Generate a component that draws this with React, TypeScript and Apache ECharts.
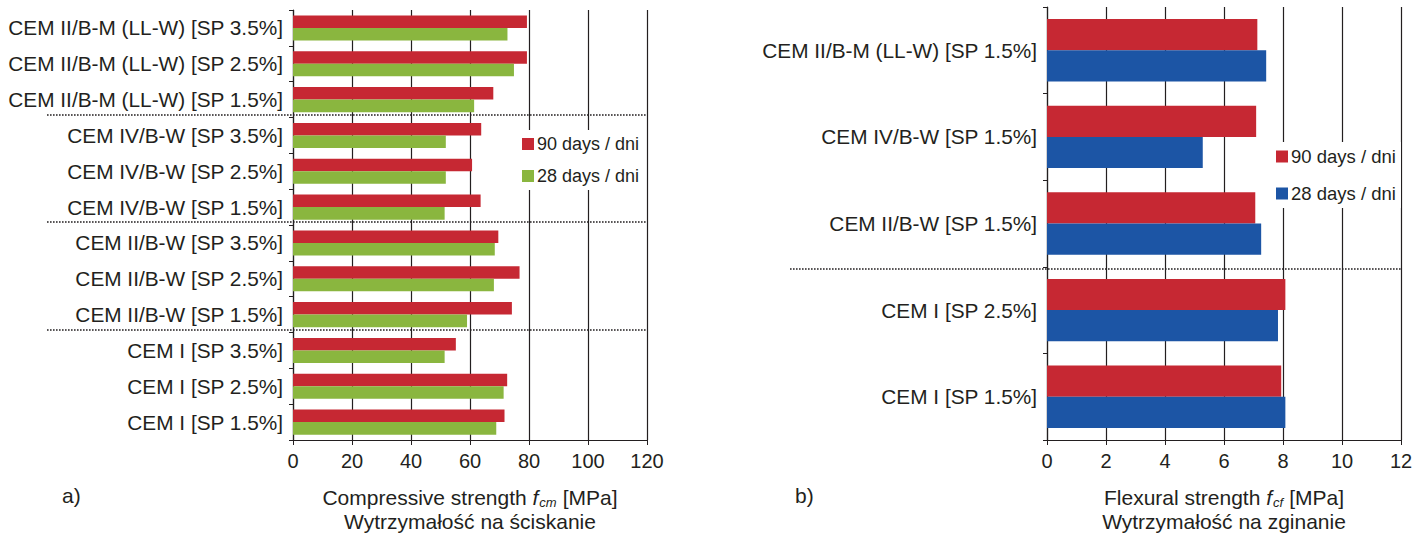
import React, { useEffect, useRef } from "react";
import * as echarts from "echarts";

// ---- Data (a) compressive strength, categories top to bottom ----
const catsA = [
  "CEM II/B-M (LL-W) [SP 3.5%]",
  "CEM II/B-M (LL-W) [SP 2.5%]",
  "CEM II/B-M (LL-W) [SP 1.5%]",
  "CEM IV/B-W [SP 3.5%]",
  "CEM IV/B-W [SP 2.5%]",
  "CEM IV/B-W [SP 1.5%]",
  "CEM II/B-W [SP 3.5%]",
  "CEM II/B-W [SP 2.5%]",
  "CEM II/B-W [SP 1.5%]",
  "CEM I [SP 3.5%]",
  "CEM I [SP 2.5%]",
  "CEM I [SP 1.5%]",
];
const days90A = [79.3, 79.3, 67.9, 63.8, 60.7, 63.6, 69.6, 76.8, 74.2, 55.2, 72.6, 71.7];
const days28A = [72.7, 74.9, 61.4, 51.8, 51.8, 51.4, 68.4, 68.1, 59.0, 51.4, 71.4, 68.9];
const groupBreaksA = [2, 5, 8]; // separator below these indices

// ---- Data (b) flexural strength, categories top to bottom ----
const catsB = [
  "CEM II/B-M (LL-W) [SP 1.5%]",
  "CEM IV/B-W [SP 1.5%]",
  "CEM II/B-W [SP 1.5%]",
  "CEM I [SP 2.5%]",
  "CEM I [SP 1.5%]",
];
const days90B = [7.13, 7.09, 7.06, 8.08, 7.94];
const days28B = [7.43, 5.28, 7.26, 7.83, 8.08];
const groupBreaksB = [2];

const seriesNames = ["90 days / dni", "28 days / dni"];

const FONT = "'Liberation Sans', Arial, Helvetica, sans-serif";
const INK = "#231f20";
const RED = "#c62833";
const GREEN = "#8ab63f";
const BLUE = "#1c55a5";

function buildOption(opts: {
  cats: string[];
  v90: number[];
  v28: number[];
  color28: string;
  grid: any;
  max: number;
  interval: number;
  legendLeft: number;
  legendTop: number;
  legendFont: number;
  legendGap: number;
  title: string;
  catGap: string;
}) {
  return {
    animation: false,
    textStyle: { fontFamily: FONT },
    grid: opts.grid,
    legend: {
      orient: "vertical",
      left: opts.legendLeft,
      top: opts.legendTop,
      data: seriesNames,
      icon: "rect",
      itemWidth: 12,
      itemHeight: 12,
      itemGap: opts.legendGap,
      backgroundColor: "#ffffff",
      padding: [5, 5, 5, 5],
      textStyle: { fontSize: opts.legendFont, color: INK, fontFamily: FONT, padding: [0, 0, 0, -2] },
    },
    xAxis: {
      type: "value",
      min: 0,
      max: opts.max,
      interval: opts.interval,
      axisLine: { show: true, lineStyle: { color: INK, width: 1.2 } },
      axisTick: { show: true, length: 5, lineStyle: { color: INK } },
      axisLabel: { fontSize: 20, color: INK, margin: 11, fontFamily: FONT },
      splitLine: { show: true, lineStyle: { color: INK, width: 1.2 } },
      name: opts.title,
      nameLocation: "middle",
      nameGap: 45,
      nameTextStyle: {
        color: INK,
        fontFamily: FONT,
        fontSize: 21,
        lineHeight: 24,
        rich: {
          a: { fontSize: 21, lineHeight: 24, color: INK, fontFamily: FONT },
          i: { fontSize: 21, lineHeight: 24, fontStyle: "italic", color: INK, fontFamily: FONT },
          s: {
            fontSize: 13,
            lineHeight: 24,
            fontStyle: "italic",
            color: INK,
            fontFamily: FONT,
            verticalAlign: "bottom",
            padding: [0, 6, 0, 1],
          },
        },
      },
    },
    yAxis: {
      type: "category",
      inverse: true,
      data: opts.cats,
      axisLine: { show: true, lineStyle: { color: INK, width: 1.2 } },
      axisTick: { show: true, length: 4, lineStyle: { color: INK } },
      axisLabel: { fontSize: 20.8, color: INK, margin: 10, fontFamily: FONT },
      splitLine: { show: false },
    },
    series: [
      {
        name: seriesNames[0],
        type: "bar",
        data: opts.v90,
        itemStyle: { color: RED },
        barGap: "0%",
        barCategoryGap: opts.catGap,
      },
      {
        name: seriesNames[1],
        type: "bar",
        data: opts.v28,
        itemStyle: { color: opts.color28 },
        barGap: "0%",
        barCategoryGap: opts.catGap,
      },
    ],
  };
}

function addSeparators(
  chart: any,
  cats: string[],
  breaks: number[],
  x1: number,
  x2: number,
  shift: number,
  label: string,
  labelX: number
) {
  const elements: any[] = [];
  breaks.forEach((i) => {
    const ya = chart.convertToPixel({ yAxisIndex: 0 }, cats[i]);
    const yb = chart.convertToPixel({ yAxisIndex: 0 }, cats[i + 1]);
    const y = Math.round((ya + yb) / 2) + shift;
    elements.push({
      type: "line",
      shape: { x1, y1: y, x2, y2: y },
      style: { stroke: INK, lineWidth: 1.6, lineDash: [1.6, 1.4] },
      z: 10,
      silent: true,
    });
  });
  elements.push({
    type: "text",
    left: labelX,
    top: 485,
    style: { text: label, fontSize: 21, fill: INK, fontFamily: FONT },
  });
  chart.setOption({ graphic: elements });
}

export default function App() {
  const refA = useRef<HTMLDivElement>(null);
  const refB = useRef<HTMLDivElement>(null);

  useEffect(() => {
    const a = echarts.init(refA.current!, null, { renderer: "svg" });
    a.setOption(
      buildOption({
        cats: catsA,
        v90: days90A,
        v28: days28A,
        color28: GREEN,
        grid: { left: 293, right: 65, top: 10, bottom: 90 },
        max: 120,
        interval: 20,
        legendLeft: 517,
        legendTop: 130,
        legendFont: 18,
        legendGap: 14,
        title: "{a|Compressive strength }{i|f}{s|cm}{a|[MPa]}\n{a|Wytrzymałość na ściskanie}",
        catGap: "30%",
      })
    );
    addSeparators(a, catsA, groupBreaksA, 47, 647, -3, "a)", 62);

    const b = echarts.init(refB.current!, null, { renderer: "svg" });
    b.setOption(
      buildOption({
        cats: catsB,
        v90: days90B,
        v28: days28B,
        color28: BLUE,
        grid: { left: 335, right: 22, top: 7, bottom: 92 },
        max: 12,
        interval: 2,
        legendLeft: 559,
        legendTop: 142,
        legendFont: 18.5,
        legendGap: 18,
        title: "{a|Flexural strength }{i|f}{s|cf}{a|[MPa]}\n{a|Wytrzymałość na zginanie}",
        catGap: "28%",
      })
    );
    addSeparators(b, catsB, groupBreaksB, 78, 689, 2, "b)", 83);

    return () => {
      a.dispose();
      b.dispose();
    };
  }, []);

  return (
    <div style={{ position: "fixed", left: 0, top: 0, width: 1423, height: 538, background: "#fff" }}>
      <div ref={refA} style={{ position: "absolute", left: 0, top: 0, width: 712, height: 538 }} />
      <div ref={refB} style={{ position: "absolute", left: 712, top: 0, width: 711, height: 538 }} />
    </div>
  );
}
